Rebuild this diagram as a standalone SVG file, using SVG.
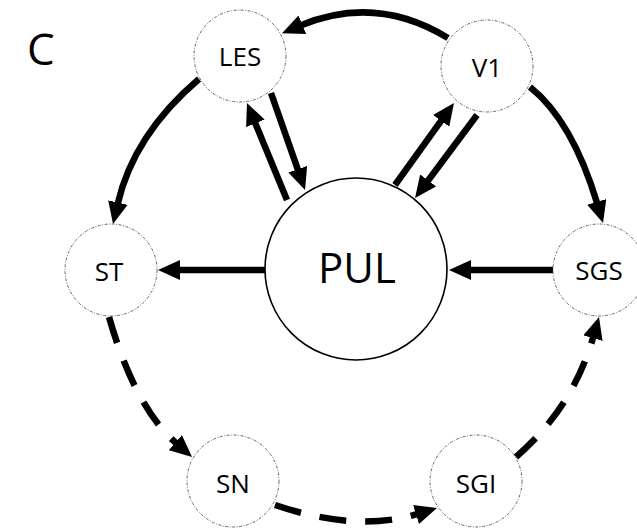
<svg xmlns="http://www.w3.org/2000/svg" width="637" height="529" viewBox="0 0 637 529">
<style>
.node{fill:#fff;stroke:#666;stroke-width:1;stroke-dasharray:3 1.5 1 1.5}
.pul{fill:#fff;stroke:#000;stroke-width:1.6}
.lbl{font-family:"Open Sans",sans-serif;font-size:26px;fill:#000;text-anchor:middle}
.big{font-family:"Open Sans",sans-serif;font-size:42px;fill:#000;text-anchor:middle}
.e{fill:none;stroke:#000;stroke-width:6.5}
.d{stroke-dasharray:27 19}
</style>
<defs>
<marker id="ah" viewBox="0 0 22 20" refX="2" refY="10" markerWidth="22" markerHeight="20" markerUnits="userSpaceOnUse" orient="auto">
<path d="M0,0 L22,10 L0,20 z" fill="#000"/>
</marker>
</defs>
<text x="27" y="65" font-family="Open Sans, sans-serif" font-size="44" fill="#000">C</text>
<g id="connectors" marker-end="url(#ah)">
<path class="e" d="M448,38 Q376,-6 300.5,25.5"/>
<path class="e" d="M199,79 Q133.6,134.6 117.5,204.5"/>
<path class="e" d="M530,87 Q572.4,120.9 597.3,203.8"/>
<path class="e" d="M553,270 L469,270"/>
<path class="e" d="M265,270 L178,270"/>
<path class="e" d="M287,200 L254.6,121.5"/>
<path class="e" d="M271,93 L298.4,171.1"/>
<path class="e" d="M395,185 L442.3,119.2"/>
<path class="e" d="M477,115 L427,182"/>
<path class="e d" d="M109,317 Q135,407.8 176.9,443.9"/>
<path class="e d" d="M275,505 Q356.7,532.7 417.9,513.9"/>
<path class="e d" d="M516,457 Q573,407.8 593.5,336.2"/>
</g>
<g id="LES"><circle class="node" cx="240" cy="56" r="46"/><text class="lbl" x="240" y="66">LES</text></g>
<g id="V1"><circle class="node" cx="487" cy="66" r="46"/><text class="lbl" x="487" y="77">V1</text></g>
<g id="ST"><circle class="node" cx="111" cy="270" r="46"/><text class="lbl" x="109" y="281">ST</text></g>
<g id="SGS"><circle class="node" cx="599" cy="270" r="46"/><text class="lbl" x="599" y="280">SGS</text></g>
<g id="SN"><circle class="node" cx="233" cy="481" r="46"/><text class="lbl" x="233" y="493">SN</text></g>
<g id="SGI"><circle class="node" cx="476" cy="481" r="46"/><text class="lbl" x="476" y="493">SGI</text></g>
<g id="PUL"><circle class="pul" cx="356" cy="269" r="91"/><text class="big" x="357" y="283">PUL</text></g>
</svg>
